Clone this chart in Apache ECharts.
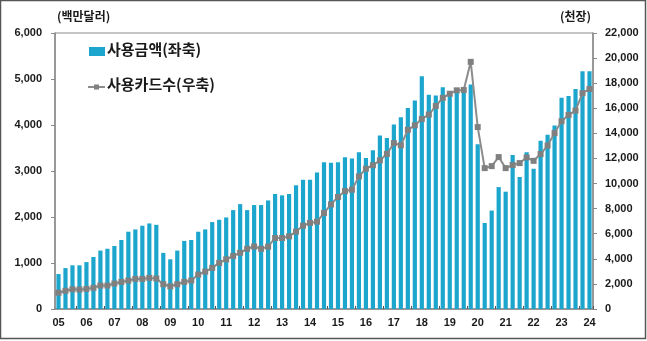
<!DOCTYPE html>
<html>
<head>
<meta charset="utf-8">
<script src="https://cdn.jsdelivr.net/npm/echarts@6/dist/echarts.min.js"></script>
<style>
  html, body { margin: 0; padding: 0; background: #fff; }
  #chart { width: 647px; height: 341px; }
</style>
</head>
<body>
<div id="chart"></div>
<script>
// Year labels shown on the category axis (first quarter of each year)
const yearLabels = ['05','06','07','08','09','10','11','12','13','14','15','16','17','18','19','20','21','22','23','24'];
const quarterNames = ['1Q','2Q','3Q','4Q'];

// Quarterly card spending, million USD (left axis), 2005 1Q – 2024 1Q
const spendAmount = [
  760, 890, 950, 950,
  1020, 1130, 1270, 1310,
  1370, 1500, 1680, 1730,
  1810, 1860, 1830, 1220,
  1080, 1270, 1480, 1500,
  1680, 1730, 1890, 1940,
  1990, 2150, 2280, 2150,
  2260, 2260, 2360, 2500,
  2470, 2500, 2690, 2810,
  2810, 2970, 3190, 3180,
  3190, 3300, 3270, 3410,
  3280, 3450, 3770, 3720,
  4010, 4170, 4370, 4530,
  5060, 4660, 4640, 4820,
  4690, 4730, 4740, 4880,
  3580, 1870, 2140, 2650,
  2550, 3350, 2870, 3410,
  3050, 3660, 3790, 3990,
  4590, 4630, 4780, 5170,
  5170
];

// Number of cards used, thousand cards (right axis)
const cardCount = [
  1300, 1450, 1570, 1550,
  1600, 1690, 1870, 1870,
  2030, 2160, 2270, 2400,
  2400, 2480, 2430, 1970,
  1810, 1970, 2160, 2270,
  2750, 2980, 3280, 3680,
  3960, 4230, 4480, 4800,
  4980, 4800, 4970, 5660,
  5660, 5790, 6170, 6640,
  6860, 6960, 7650, 8340,
  8930, 9400, 9510, 10570,
  11180, 11460, 11850, 12360,
  13220, 13050, 14280, 14640,
  15150, 15500, 16180, 16830,
  17160, 17430, 17460, 19700,
  14500, 11230, 11390, 12110,
  11230, 11470, 11630, 12080,
  11810, 12350, 13030, 14020,
  14970, 15470, 15820, 17200,
  17540
];

// Build the quarterly category list from the year labels
const categories = [];
for (let i = 0; i < spendAmount.length; i++) {
  categories.push(yearLabels[Math.floor(i / 4)] + '.' + quarterNames[i % 4]);
}

const numFont = '"Liberation Sans", Arial, sans-serif';
const krFont = '"Noto Sans CJK KR", sans-serif';
const axisGray = '#8a8a8a';

const chart = echarts.init(document.getElementById('chart'), null, { renderer: 'canvas' });

chart.setOption({
  animation: false,
  backgroundColor: '#ffffff',
  grid: {
    left: 55, right: 54, top: 33, bottom: 32,
    show: true, borderColor: axisGray, borderWidth: 1, backgroundColor: 'transparent'
  },
  legend: { show: false },
  xAxis: {
    type: 'category',
    data: categories,
    boundaryGap: true,
    axisLine: { lineStyle: { color: axisGray, width: 1.5 } },
    axisTick: {
      show: true, inside: true, length: 3,
      interval: (idx) => idx % 4 === 3,
      lineStyle: { color: '#555' }
    },
    axisLabel: {
      interval: (idx) => idx % 4 === 0,
      formatter: (v) => v.slice(0, 2),
      fontFamily: numFont, fontWeight: 'bold', fontSize: 11, color: '#1a1a1a',
      margin: 8
    }
  },
  yAxis: [
    {
      type: 'value', min: 0, max: 6000, interval: 1000,
      position: 'left',
      splitLine: { show: false },
      axisLine: { show: true, lineStyle: { color: axisGray, width: 1.5 } },
      axisTick: { show: true, length: 4, lineStyle: { color: axisGray } },
      axisLabel: {
        formatter: (v) => v.toLocaleString('en-US'),
        fontFamily: numFont, fontWeight: 'bold', fontSize: 11, color: '#1a1a1a', margin: 13
      }
    },
    {
      type: 'value', min: 0, max: 22000, interval: 2000,
      position: 'right',
      splitLine: { show: false },
      axisLine: { show: true, lineStyle: { color: axisGray, width: 1.5 } },
      axisTick: { show: true, length: 4, lineStyle: { color: axisGray } },
      axisLabel: {
        formatter: (v) => v.toLocaleString('en-US'),
        fontFamily: numFont, fontWeight: 'bold', fontSize: 11, color: '#1a1a1a', margin: 12
      }
    }
  ],
  series: [
    {
      name: '사용금액(좌축)',
      type: 'bar',
      yAxisIndex: 0,
      data: spendAmount,
      barCategoryGap: '40%',
      itemStyle: { color: '#1ca6cd' }
    },
    {
      name: '사용카드수(우축)',
      type: 'line',
      yAxisIndex: 1,
      data: cardCount,
      symbol: 'rect',
      symbolSize: 6,
      showAllSymbol: true,
      lineStyle: { color: '#8c8c8c', width: 2 },
      itemStyle: { color: '#808080' },
      z: 5
    }
  ],
  graphic: [
    // outer frame
    {
      type: 'rect', shape: { x: 0.5, y: 0.5, width: 645, height: 338 },
      style: { fill: 'none', stroke: '#555', lineWidth: 1.5 }, silent: true
    },
    // axis units
    {
      type: 'text', left: 57, top: 10,
      style: { text: '(백만달러)', font: 'bold 12px ' + krFont, fill: '#1a1a1a' }
    },
    {
      type: 'text', left: 560, top: 10,
      style: { text: '(천장)', font: 'bold 12px ' + krFont, fill: '#1a1a1a' }
    },
    // legend: bars
    {
      type: 'rect', shape: { x: 89, y: 47, width: 16, height: 9 },
      style: { fill: '#1ca6cd' }
    },
    {
      type: 'text', left: 107, top: 42,
      style: { text: '사용금액(좌축)', font: 'bold 15px ' + krFont, fill: '#1a1a1a' }
    },
    // legend: line
    {
      type: 'line', shape: { x1: 88, y1: 87, x2: 105, y2: 87 },
      style: { stroke: '#8c8c8c', lineWidth: 2 }
    },
    {
      type: 'rect', shape: { x: 94, y: 84.5, width: 5, height: 5 },
      style: { fill: '#808080' }
    },
    {
      type: 'text', left: 107, top: 77,
      style: { text: '사용카드수(우축)', font: 'bold 15px ' + krFont, fill: '#1a1a1a' }
    }
  ]
});
</script>
</body>
</html>
